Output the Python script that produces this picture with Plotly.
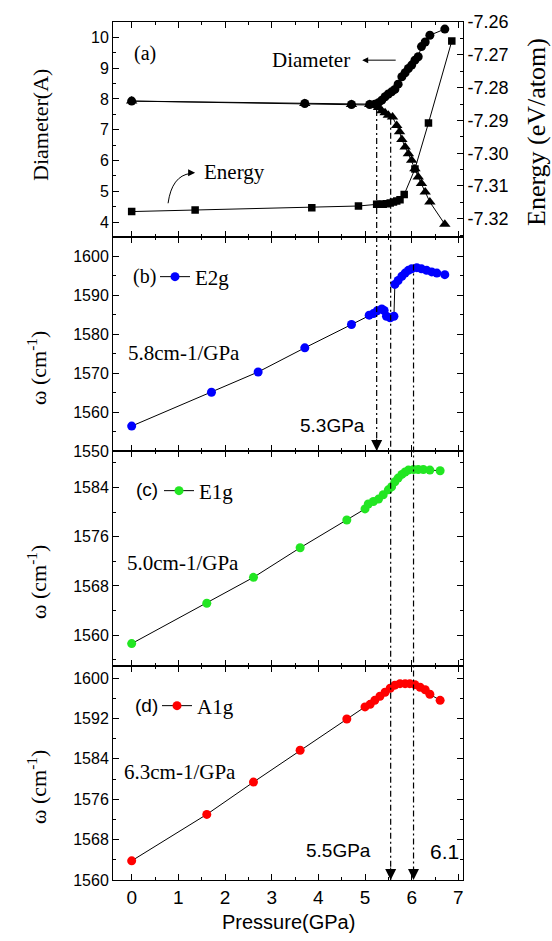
import plotly.graph_objects as go
from plotly.subplots import make_subplots

# ---------------- data ----------------
# Panel (a): tube diameter (two branches) and energy
diam_circle_p = [0, 3.71, 4.71, 5.10, 5.21, 5.29, 5.36, 5.43, 5.50, 5.57, 5.64, 5.71, 5.79, 5.86,
                 5.93, 6.00, 6.07, 6.14, 6.21, 6.29, 6.39, 6.71]
diam_circle_d = [7.93, 7.85, 7.82, 7.82, 7.83, 7.88, 7.96, 8.07, 8.16, 8.23, 8.31, 8.48, 8.72, 8.85,
                 8.99, 9.10, 9.26, 9.37, 9.70, 9.85, 10.07, 10.27]
diam_tri_p = [0, 3.71, 4.71, 5.10, 5.21, 5.29, 5.36, 5.43, 5.50, 5.59, 5.68, 5.74, 5.79, 5.86,
              5.93, 6.00, 6.07, 6.14, 6.21, 6.29, 6.39, 6.71]
diam_tri_d = [7.93, 7.85, 7.82, 7.82, 7.80, 7.72, 7.62, 7.55, 7.47, 7.41, 7.14, 6.93, 6.68, 6.44,
              6.22, 6.01, 5.73, 5.46, 5.25, 4.98, 4.65, 3.93]
energy_p = [0, 1.36, 3.86, 4.86, 5.25, 5.32, 5.39, 5.46, 5.54, 5.61, 5.68, 5.75, 5.84, 6.07, 6.36, 6.86]
energy_e = [-7.3178, -7.3173, -7.3166, -7.3161, -7.3156, -7.3156, -7.3156, -7.3154, -7.3152,
            -7.3149, -7.3146, -7.3142, -7.3126, -7.3048, -7.2908, -7.2658]
energy_ticks = [-7.32, -7.31, -7.30, -7.29, -7.28, -7.27, -7.26]
energy_ticktext = ["-7.32", "-7.31", "-7.30", "-7.29", "-7.28", "-7.27", "-7.26"]

# Panel (b): E2g
e2g_p = [0, 1.71, 2.71, 3.71, 4.71, 5.09, 5.18, 5.26, 5.36, 5.41, 5.46, 5.54, 5.62, 5.64, 5.71,
         5.79, 5.86, 5.93, 6.00, 6.11, 6.21, 6.32, 6.43, 6.54, 6.71]
e2g_w = [1556.4, 1565.1, 1570.3, 1576.5, 1582.5, 1584.9, 1585.3, 1586.0, 1586.5, 1586.1, 1584.6,
         1584.2, 1584.6, 1592.8, 1593.8, 1594.9, 1595.7, 1596.4, 1596.8, 1597.1, 1596.8, 1596.4,
         1596.0, 1595.7, 1595.3]

# Panel (c): E1g
e1g_p = [0, 1.61, 2.61, 3.61, 4.61, 5.00, 5.07, 5.18, 5.29, 5.39, 5.50, 5.57, 5.64, 5.71, 5.79,
         5.86, 5.93, 6.04, 6.14, 6.25, 6.39, 6.61]
e1g_w = [1558.65, 1565.2, 1569.4, 1574.2, 1578.7, 1580.5, 1581.3, 1581.7, 1582.1, 1582.8, 1583.6,
         1584.1, 1584.9, 1585.5, 1586.1, 1586.5, 1586.8, 1586.9, 1586.9, 1586.9, 1586.8, 1586.7]

# Panel (d): A1g
a1g_p = [0, 1.61, 2.61, 3.61, 4.61, 5.00, 5.11, 5.21, 5.32, 5.43, 5.54, 5.64, 5.75, 5.86, 5.96,
         6.07, 6.18, 6.29, 6.39, 6.61]
a1g_w = [1563.8, 1573.0, 1579.4, 1585.7, 1591.9, 1594.3, 1594.8, 1595.6, 1596.4, 1597.2, 1598.0,
         1598.6, 1598.9, 1598.9, 1598.9, 1598.7, 1598.2, 1597.7, 1596.8, 1595.6]

# transition pressures (dash-dot guides)
trans_p = [5.25, 5.55, 6.04]

SERIF = "Liberation Serif"
SANS = "Liberation Sans"

fig = make_subplots(rows=4, cols=1, shared_xaxes=True, vertical_spacing=0,
                    specs=[[{"secondary_y": True}], [{}], [{}], [{}]])

line_k = dict(color="black", width=1)

fig.add_trace(go.Scatter(x=diam_circle_p, y=diam_circle_d, mode="lines+markers", line=line_k,
                         marker=dict(symbol="circle", size=9, color="black"), showlegend=False),
              row=1, col=1, secondary_y=False)
fig.add_trace(go.Scatter(x=diam_tri_p, y=diam_tri_d, mode="lines+markers", line=line_k,
                         marker=dict(symbol="triangle-up", size=10, color="black"), showlegend=False),
              row=1, col=1, secondary_y=False)
fig.add_trace(go.Scatter(x=energy_p, y=energy_e, mode="lines+markers", line=line_k,
                         marker=dict(symbol="square", size=7.5, color="black"), showlegend=False),
              row=1, col=1, secondary_y=True)

fig.add_trace(go.Scatter(x=e2g_p, y=e2g_w, mode="lines+markers", name="E2g", line=line_k,
                         marker=dict(size=9, color="#0000FF"), legend="legend2"), row=2, col=1)
fig.add_trace(go.Scatter(x=e1g_p, y=e1g_w, mode="lines+markers", name="E1g", line=line_k,
                         marker=dict(size=9, color="#22E622"), legend="legend3"), row=3, col=1)
fig.add_trace(go.Scatter(x=a1g_p, y=a1g_w, mode="lines+markers", name="A1g", line=line_k,
                         marker=dict(size=9, color="#FF0000"), legend="legend4"), row=4, col=1)

axis_common = dict(showline=True, linecolor="black", linewidth=1, ticks="inside", ticklen=6,
                   tickcolor="black", tickwidth=1, showgrid=False, zeroline=False,
                   automargin=False)

X_RANGE = [-0.4, 7.1]
for r in range(1, 5):
    fig.update_xaxes(axis_common, mirror="ticks", range=X_RANGE, dtick=1, tick0=0,
                     domain=[0, 1],
                     minor=dict(dtick=0.5, ticklen=3, ticks="inside", tickcolor="black"),
                     tickfont=dict(family=SANS, size=19), showticklabels=(r == 4), row=r, col=1)

Y_RANGES = {1: [3.53, 10.5], 2: [1550, 1605.1], 3: [1555.1, 1589.9], 4: [1560, 1602.5]}
fig.update_yaxes(axis_common, mirror=False, range=Y_RANGES[1], dtick=1, tick0=0,
                 minor=dict(dtick=0.5, ticklen=3, ticks="inside", tickcolor="black"),
                 tickfont=dict(family=SANS, size=16), row=1, col=1, secondary_y=False)
E_RANGE = [-7.3254, -7.26]
fig.update_yaxes(axis_common, range=E_RANGE, tickvals=energy_ticks, ticktext=energy_ticktext,
                 minor=dict(dtick=0.005, tick0=-7.32, ticklen=3, ticks="inside", tickcolor="black"),
                 tickfont=dict(family=SANS, size=18), row=1, col=1, secondary_y=True)
fig.update_yaxes(axis_common, mirror="ticks", range=Y_RANGES[2], dtick=10, tick0=1550,
                 minor=dict(dtick=5, ticklen=3, ticks="inside", tickcolor="black"),
                 tickfont=dict(family=SANS, size=16), row=2, col=1)
fig.update_yaxes(axis_common, mirror="ticks", range=Y_RANGES[3], dtick=8, tick0=1560,
                 minor=dict(dtick=4, tick0=1560, ticklen=3, ticks="inside", tickcolor="black"),
                 tickfont=dict(family=SANS, size=16), row=3, col=1)
fig.update_yaxes(axis_common, mirror="ticks", range=Y_RANGES[4], dtick=8, tick0=1560,
                 minor=dict(dtick=4, tick0=1560, ticklen=3, ticks="inside", tickcolor="black"),
                 tickfont=dict(family=SANS, size=16), row=4, col=1)

fig.update_layout(template="none", width=552, height=941, autosize=False,
                  margin=dict(l=113, r=89, t=22, b=61, autoexpand=False),
                  plot_bgcolor="white", paper_bgcolor="white", showlegend=True,
                  font=dict(family=SANS, color="black"))

# legends inside panels (b)-(d)
PLOT_L, PLOT_W, PLOT_B, PLOT_H = 113, 350.0, 880, 858
def px_x(px):
    return (px - PLOT_L) / PLOT_W
def px_y(py):
    return (PLOT_B - py) / PLOT_H

leg_common = dict(xanchor="left", yanchor="middle", bgcolor="rgba(0,0,0,0)", borderwidth=0,
                  font=dict(family=SERIF, size=21, color="black"), itemwidth=30)
fig.update_layout(
    legend2=dict(leg_common, x=px_x(155), y=px_y(277)),
    legend3=dict(leg_common, x=px_x(159), y=px_y(491)),
    legend4=dict(leg_common, x=px_x(157), y=px_y(706)),
)

# helper: value on a row's axis -> paper y
yaxis_names = {1: "yaxis", 2: "yaxis3", 3: "yaxis4", 4: "yaxis5"}
def to_paper(row, v):
    dom = fig.layout[yaxis_names[row]].domain
    r0, r1 = Y_RANGES[row]
    return dom[0] + (v - r0) / (r1 - r0) * (dom[1] - dom[0])

# dash-dot guide lines
guide_specs = [(trans_p[0], to_paper(1, 7.64), to_paper(2, 1550)),
               (trans_p[1], to_paper(1, 7.36), to_paper(4, 1560)),
               (trans_p[2], to_paper(2, 1597.9), to_paper(4, 1560))]
for xp, ytop, ybot in guide_specs:
    fig.add_shape(type="line", xref="x", yref="paper", x0=xp, x1=xp, y0=ytop, y1=ybot,
                  line=dict(color="black", width=1.2, dash="6px,3px,2px,3px"))

# arrow heads at the bottom of the guides
for xp, xr, yr, yv in [(trans_p[0], "x2", "y3", 1550), (trans_p[1], "x4", "y5", 1560),
                       (trans_p[2], "x4", "y5", 1560)]:
    fig.add_annotation(x=xp, y=yv, xref=xr, yref=yr, ax=0, ay=-14, text="", showarrow=True,
                       arrowhead=2, arrowsize=2.2, arrowwidth=1, arrowcolor="black", standoff=0)

# texts
def txt(x, y, xr, yr, s, fam, size, xanchor="center"):
    fig.add_annotation(x=x, y=y, xref=xr, yref=yr, text=s, showarrow=False,
                       font=dict(family=fam, size=size, color="black"), xanchor=xanchor,
                       yanchor="middle")

txt(0.285, 9.49, "x", "y", "(a)", SERIF, 20)
txt(3.85, 9.26, "x", "y", "Diameter", SERIF, 21)
txt(2.21, 5.63, "x", "y", "Energy", SERIF, 21)
txt(0.285, 1594.9, "x2", "y3", "(b)", SERIF, 20)
txt(-0.12, 1575.2, "x2", "y3", "5.8cm-1/GPa", SERIF, 21, "left")
txt(5.04, 1556.6, "x2", "y3", "5.3GPa", SANS, 19, "right")
txt(0.32, 1583.7, "x3", "y4", "(c)", SANS, 19)
txt(-0.14, 1571.8, "x3", "y4", "5.0cm-1/GPa", SERIF, 21, "left")
txt(0.32, 1594.6, "x4", "y5", "(d)", SANS, 19)
txt(-0.2, 1581.4, "x4", "y5", "6.3cm-1/GPa", SERIF, 21, "left")
txt(5.18, 1565.9, "x4", "y5", "5.5GPa", SANS, 19, "right")
txt(6.36, 1565.6, "x4", "y5", "6.1", SANS, 21, "left")

# Diameter arrow (pointing left)
fig.add_annotation(x=4.94, y=9.26, xref="x", yref="y", ax=35, ay=0, text="", showarrow=True,
                   arrowhead=2, arrowsize=1.2, arrowwidth=1, arrowcolor="black", standoff=0)
# Energy curved arrow
fig.add_shape(type="path", xref="x", yref="y", path="M 0.78,4.61 Q 0.86,5.50 1.26,5.58",
              line=dict(color="black", width=1))
fig.add_annotation(x=1.36, y=5.60, xref="x", yref="y", ax=-6, ay=0, text="", showarrow=True,
                   arrowhead=2, arrowsize=1.4, arrowwidth=1, arrowcolor="black", standoff=0)

# axis titles
def vtitle(xpx, ypx, s, size):
    fig.add_annotation(x=px_x(xpx), y=px_y(ypx), xref="paper", yref="paper", text=s,
                       showarrow=False, textangle=-90, xanchor="center", yanchor="middle",
                       font=dict(family=SERIF, size=size, color="black"))

vtitle(41, 125, "Diameter(A)", 22)
vtitle(37, 368, "ω (cm<sup>-1</sup>)", 22)
vtitle(37, 582, "ω (cm<sup>-1</sup>)", 22)
vtitle(37, 787, "ω (cm<sup>-1</sup>)", 22)
vtitle(536, 132, "Energy (eV/atom)", 26)
fig.add_annotation(x=px_x(288), y=px_y(922), xref="paper", yref="paper", text="Pressure(GPa)",
                   showarrow=False, xanchor="center", yanchor="middle",
                   font=dict(family=SANS, size=20, color="black"))

post = ("document.body.style.margin='0';document.body.style.padding='0';"
        "document.body.style.overflow='hidden';"
        "document.documentElement.style.overflow='hidden';"
        "var gd=document.getElementById('{plot_id}');"
        "Plotly.relayout(gd,{width:552,height:941});")
fig.write_html("out.html", config={"responsive": False, "displayModeBar": False},
               post_script=post)
